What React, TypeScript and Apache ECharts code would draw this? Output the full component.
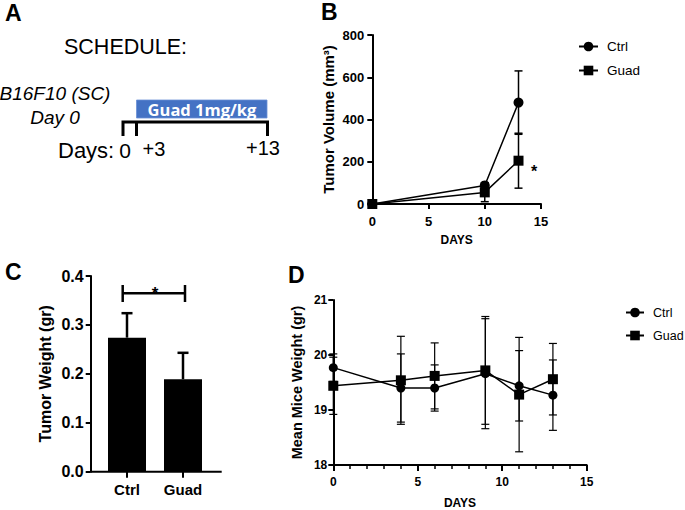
import React, { useEffect, useRef } from "react";
import * as echarts from "echarts";

const FONT = "Liberation Sans";

// Panel B: tumor volume
const volumeDays = [0, 10, 13];
const volumeCtrl = [0, 88, 480];
const volumeCtrlErr = [0, 12, 150];
const volumeGuad = [0, 55, 205];
const volumeGuadErr = [0, 44, 130];

// Panel C: tumor weight
const weightGroups = ["Ctrl", "Guad"];
const tumorWeight = [0.274, 0.189];
const tumorWeightErr = [0.05, 0.054];

// Panel D: mean mice weight
const miceDays = [0, 4, 6, 9, 11, 13];
const miceCtrl = [19.77, 19.4, 19.4, 19.66, 19.44, 19.27];
const miceCtrlErr = [0.25, 0.62, 0.42, 1.0, 0.64, 0.64];
const miceGuad = [19.44, 19.54, 19.62, 19.72, 19.28, 19.56];
const miceGuadErr = [0.52, 0.8, 0.6, 0.98, 1.04, 0.65];

const seriesNames = ["Ctrl", "Guad"];

const axisLine = { show: true, lineStyle: { color: "#000", width: 2 } };
const axisTick = (length: number) => ({ show: true, length, lineStyle: { color: "#000", width: 2 } });
const label = (fontSize: number, margin: number, extra: any = {}) => ({
  color: "#000",
  fontFamily: FONT,
  fontWeight: "bold",
  fontSize,
  margin,
  ...extra,
});
const nameStyle = (fontSize: number) => ({ color: "#000", fontFamily: FONT, fontWeight: "bold", fontSize });

function errorBars(xi: number, yi: number, xs: any[], ys: number[], errs: number[], capHalf: number, lw: number, upOnly = false) {
  return {
    type: "custom",
    xAxisIndex: xi,
    yAxisIndex: yi,
    z: 1,
    silent: true,
    encode: { x: 0, y: [1, 2] },
    data: xs.map((x, i) => [x, upOnly ? ys[i] : ys[i] - errs[i], ys[i] + errs[i]]),
    renderItem: (params: any, api: any) => {
      const x = api.value(0);
      const lo = api.coord([x, api.value(1)]);
      const hi = api.coord([x, api.value(2)]);
      const style = { stroke: "#000", lineWidth: lw, fill: null };
      const children: any[] = [
        { type: "line", shape: { x1: lo[0], y1: lo[1], x2: hi[0], y2: hi[1] }, style },
        { type: "line", shape: { x1: hi[0] - capHalf, y1: hi[1], x2: hi[0] + capHalf, y2: hi[1] }, style },
      ];
      if (!upOnly) {
        children.push({ type: "line", shape: { x1: lo[0] - capHalf, y1: lo[1], x2: lo[0] + capHalf, y2: lo[1] }, style });
      }
      return { type: "group", children };
    },
  };
}

function lineSeries(name: string, xi: number, yi: number, xs: number[], ys: number[], symbol: string, size: number) {
  return {
    name,
    type: "line",
    xAxisIndex: xi,
    yAxisIndex: yi,
    z: 3,
    data: xs.map((x, i) => [x, ys[i]]),
    symbol,
    symbolSize: size,
    showSymbol: true,
    itemStyle: { color: "#000" },
    lineStyle: { color: "#000", width: 1.5 },
  };
}

const txt = (text: string, x: number, y: number, size: number, extra: any = {}) => ({
  type: "text",
  x,
  y,
  silent: true,
  style: {
    text,
    fill: "#000",
    fontFamily: FONT,
    fontSize: size,
    align: "left",
    verticalAlign: "middle",
    ...extra,
  },
});

const seg = (x1: number, y1: number, x2: number, y2: number, lw: number) => ({
  type: "line",
  silent: true,
  shape: { x1, y1, x2, y2 },
  style: { stroke: "#000", lineWidth: lw },
});

export default function App() {
  const ref = useRef<HTMLDivElement>(null);
  useEffect(() => {
    if (!ref.current) return;
    const chart = echarts.init(ref.current, undefined, { renderer: "svg" });
    const option: any = {
      animation: false,
      backgroundColor: "#fff",
      grid: [
        { left: 372.3, top: 35, width: 168.7, height: 169 },
        { left: 99, top: 276, width: 112, height: 195.7 },
        { left: 333.3, top: 300, width: 253.4, height: 168.3 },
      ],
      xAxis: [
        {
          type: "value",
          gridIndex: 0,
          min: 0,
          max: 15,
          interval: 5,
          axisLine,
          axisTick: axisTick(5),
          axisLabel: label(13, 11),
          splitLine: { show: false },
          name: "DAYS",
          nameLocation: "middle",
          nameGap: 30,
          nameTextStyle: nameStyle(12),
        },
        {
          type: "category",
          gridIndex: 1,
          data: weightGroups,
          axisLine: { show: false },
          axisTick: { show: true, alignWithLabel: true, length: 6, lineStyle: { color: "#000", width: 2 } },
          axisLabel: label(15, 10),
          splitLine: { show: false },
        },
        {
          type: "value",
          gridIndex: 2,
          min: 0,
          max: 15,
          interval: 5,
          axisLine,
          axisTick: axisTick(6),
          minorTick: { show: true, splitNumber: 5, length: 4, lineStyle: { color: "#000", width: 1.5 } },
          axisLabel: label(12, 11),
          splitLine: { show: false },
          name: "DAYS",
          nameLocation: "middle",
          nameGap: 32,
          nameTextStyle: nameStyle(12),
        },
      ],
      yAxis: [
        {
          type: "value",
          gridIndex: 0,
          min: 0,
          max: 800,
          interval: 200,
          axisLine,
          axisTick: axisTick(5),
          axisLabel: label(13, 8),
          splitLine: { show: false },
          name: "Tumor Volume (mm³)",
          nameLocation: "middle",
          nameGap: 36,
          nameTextStyle: nameStyle(15),
        },
        {
          type: "value",
          gridIndex: 1,
          min: 0,
          max: 0.4,
          interval: 0.1,
          offset: 8.3,
          axisLine,
          axisTick: axisTick(5),
          axisLabel: label(16, 7, { formatter: (v: number) => v.toFixed(1) }),
          splitLine: { show: false },
          name: "Tumor Weight (gr)",
          nameLocation: "middle",
          nameGap: 37,
          nameTextStyle: nameStyle(16),
        },
        {
          type: "value",
          gridIndex: 2,
          min: 18,
          max: 21,
          interval: 1,
          axisLine,
          axisTick: axisTick(5),
          axisLabel: label(12, 6),
          splitLine: { show: false },
          name: "Mean Mice Weight (gr)",
          nameLocation: "middle",
          nameGap: 29,
          nameTextStyle: nameStyle(14.5),
        },
      ],
      legend: [
        {
          data: seriesNames,
          orient: "vertical",
          left: 578,
          top: 39.5,
          padding: 0,
          itemWidth: 19,
          itemHeight: 12,
          itemGap: 10,
          selectedMode: false,
          textStyle: { color: "#000", fontFamily: FONT, fontSize: 13.5, lineHeight: 14, padding: [0, 0, 0, 4] },
        },
        {
          data: seriesNames,
          orient: "vertical",
          left: 625,
          top: 305.5,
          padding: 0,
          itemWidth: 18,
          itemHeight: 12,
          itemGap: 9,
          selectedMode: false,
          textStyle: { color: "#000", fontFamily: FONT, fontSize: 12.5, lineHeight: 14, padding: [0, 0, 0, 4] },
        },
      ],
      series: [
        errorBars(0, 0, volumeDays, volumeCtrl, volumeCtrlErr, 4, 1.5),
        errorBars(0, 0, volumeDays, volumeGuad, volumeGuadErr, 4, 1.5),
        lineSeries(seriesNames[0], 0, 0, volumeDays, volumeCtrl, "circle", 10),
        lineSeries(seriesNames[1], 0, 0, volumeDays, volumeGuad, "rect", 10),
        {
          type: "bar",
          xAxisIndex: 1,
          yAxisIndex: 1,
          data: tumorWeight,
          barWidth: 38,
          itemStyle: { color: "#000" },
          z: 2,
        },
        errorBars(1, 1, weightGroups.map((_, i) => i), tumorWeight, tumorWeightErr, 5.5, 2.5, true),
        errorBars(2, 2, miceDays, miceCtrl, miceCtrlErr, 4, 1.2),
        errorBars(2, 2, miceDays, miceGuad, miceGuadErr, 4, 1.2),
        lineSeries(seriesNames[0], 2, 2, miceDays, miceCtrl, "circle", 9),
        lineSeries(seriesNames[1], 2, 2, miceDays, miceGuad, "rect", 10),
      ],
      graphic: [
        // panel letters
        txt("A", 5, 12.5, 23, { fontWeight: "bold" }),
        txt("B", 321, 12, 23, { fontWeight: "bold" }),
        txt("C", 5, 272, 23, { fontWeight: "bold" }),
        txt("D", 288, 275, 23, { fontWeight: "bold" }),
        // schedule
        txt("SCHEDULE:", 64, 47, 21.5),
        txt("B16F10 (SC)", 55, 93, 19, { fontStyle: "italic", align: "center" }),
        txt("Day 0", 55, 117, 19, { fontStyle: "italic", align: "center" }),
        {
          type: "rect",
          silent: true,
          shape: { x: 136.5, y: 100, width: 130.5, height: 18 },
          style: { fill: "#4472C4", stroke: "#6A8FD6", lineWidth: 0.8 },
        },
        txt("Guad 1mg/kg", 202, 109.5, 16.5, { fill: "#fff", fontWeight: "bold", fontFamily: "Open Sans", align: "center" }),
        {
          type: "polyline",
          silent: true,
          shape: { points: [[123, 136], [123, 122], [267.5, 122], [267.5, 136]] },
          style: { stroke: "#000", lineWidth: 3, fill: null },
        },
        seg(136.5, 122, 136.5, 136, 3),
        txt("Days:", 58, 150, 22),
        txt("0", 125, 150, 21, { align: "center" }),
        txt("+3", 154, 149, 20, { align: "center" }),
        txt("+13", 263, 148, 20, { align: "center" }),
        // panel C x-axis line and significance bracket
        seg(90.7, 471.7, 221.7, 471.7, 2),
        seg(122.7, 293.3, 185, 293.3, 2.5),
        seg(122.7, 285, 122.7, 302, 2.5),
        seg(185, 285, 185, 302, 2.5),
        txt("*", 155, 293.5, 17, { fontWeight: "bold", align: "center" }),
        // panel B significance
        txt("*", 534, 171.5, 16, { fontWeight: "bold", align: "center" }),
      ],
    };
    chart.setOption(option);
    return () => chart.dispose();
  }, []);
  return (
    <div
      ref={ref}
      style={{ position: "absolute", left: 0, top: 0, width: 685, height: 510, background: "#fff" }}
    />
  );
}
